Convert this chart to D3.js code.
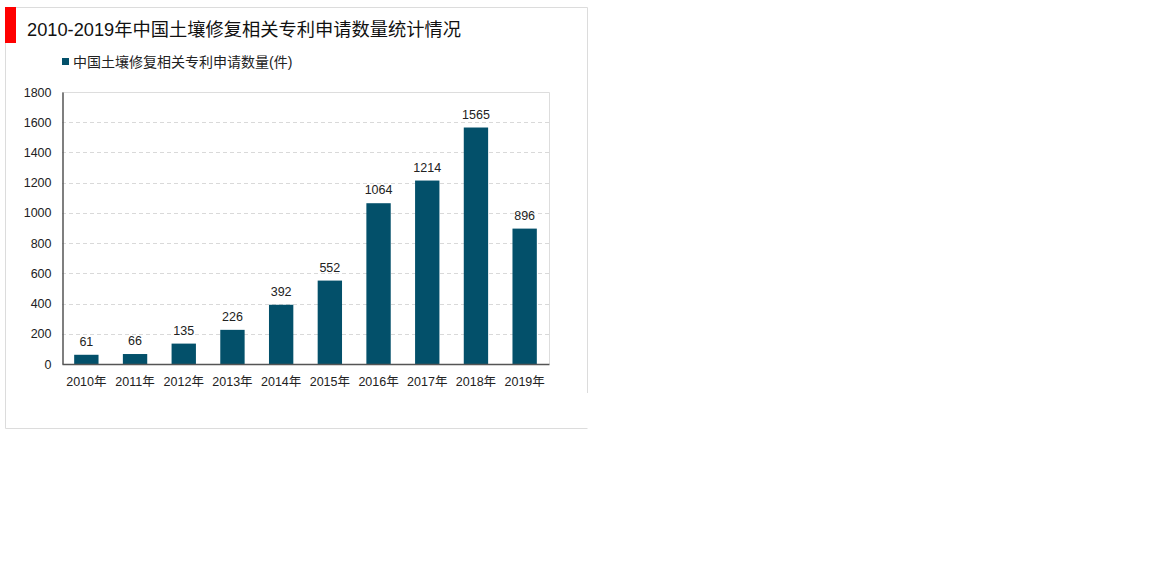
<!DOCTYPE html>
<html><head><meta charset="utf-8">
<script src="https://cdn.jsdelivr.net/npm/d3@7"></script>
<style>body{margin:0;background:#fff;}svg{display:block;}</style>
</head><body>
<script>
const title = "2010-2019年中国土壤修复相关专利申请数量统计情况";
const seriesName = "中国土壤修复相关专利申请数量(件)";
const categories = ["2010年","2011年","2012年","2013年","2014年","2015年","2016年","2017年","2018年","2019年"];
const values = [61,66,135,226,392,552,1064,1214,1565,896];
const yTicks = [0,200,400,600,800,1000,1200,1400,1600,1800];

const W=1152,H=573;
const svg=d3.select("body").append("svg").attr("width",W).attr("height",H);
const font="Liberation Sans, Arial, Noto Sans CJK SC, sans-serif";

// outer frame
const fr={l:5.5,t:7.5,r:587.5,b:428.5};
svg.append("path").attr("d",`M${fr.l},${fr.b}V${fr.t}H${fr.r}V393`).attr("fill","none").attr("stroke","#dcdcdc");
svg.append("line").attr("x1",fr.l).attr("x2",fr.r).attr("y1",fr.b).attr("y2",fr.b).attr("stroke","#dcdcdc");
svg.append("rect").attr("x",5).attr("y",7).attr("width",11).attr("height",36).attr("fill","#ff0000");

svg.append("text").attr("x",27).attr("y",36).attr("font-family",font).attr("font-size",18)
 .attr("textLength",434).attr("lengthAdjust","spacingAndGlyphs").attr("fill","#111").text(title);

// legend
svg.append("rect").attr("x",62).attr("y",58).attr("width",7).attr("height",7).attr("fill","#03506a");
svg.append("text").attr("x",73).attr("y",67).attr("font-family",font).attr("font-size",14).attr("fill","#222").text(seriesName);

const m={l:62,r:549,t:92,b:364};
const x=d3.scaleBand().domain(categories).range([m.l,m.r]).paddingInner(0.5).paddingOuter(0.25);
const y=d3.scaleLinear().domain([0,1800]).range([m.b,m.t]);

// plot border top/right
svg.append("path").attr("d",`M${m.l},${m.t+0.5}H${m.r+0.5}V${m.b}`).attr("fill","none").attr("stroke","#dddddd");

// gridlines
svg.append("g").selectAll("line").data(yTicks.filter(d=>d>0&&d<1800)).join("line")
 .attr("x1",m.l).attr("x2",m.r).attr("y1",d=>Math.round(y(d))+0.5).attr("y2",d=>Math.round(y(d))+0.5)
 .attr("stroke","#d9d9d9").attr("stroke-dasharray","4,3");

// bars
svg.append("g").selectAll("rect").data(values).join("rect")
 .attr("x",(d,i)=>x(categories[i])).attr("width",x.bandwidth())
 .attr("y",d=>y(d)).attr("height",d=>y(0)-y(d)).attr("fill","#03506a");

// value labels
svg.append("g").selectAll("text").data(values).join("text")
 .attr("x",(d,i)=>x(categories[i])+x.bandwidth()/2).attr("y",d=>y(d)-9)
 .attr("text-anchor","middle").attr("font-family",font).attr("font-size",12.5).attr("fill","#222").text(d=>d);

// y axis
const ya=svg.append("g").attr("transform",`translate(${m.l+0.5},0)`)
 .call(d3.axisLeft(y).tickValues(yTicks).tickFormat(d3.format("d")).tickSize(0).tickPadding(11));
ya.select(".domain").attr("stroke","#555").attr("stroke-width",1.5);
ya.selectAll("text").attr("font-family",font).attr("font-size",12.5).attr("fill","#222");

// x axis
const xa=svg.append("g").attr("transform",`translate(0,${m.b})`)
 .call(d3.axisBottom(x).tickSize(0).tickPadding(13));
xa.select(".domain").attr("stroke","#555").attr("stroke-width",1.5);
xa.selectAll("text").attr("font-family",font).attr("font-size",12.5).attr("fill","#222");
</script>
</body></html>
